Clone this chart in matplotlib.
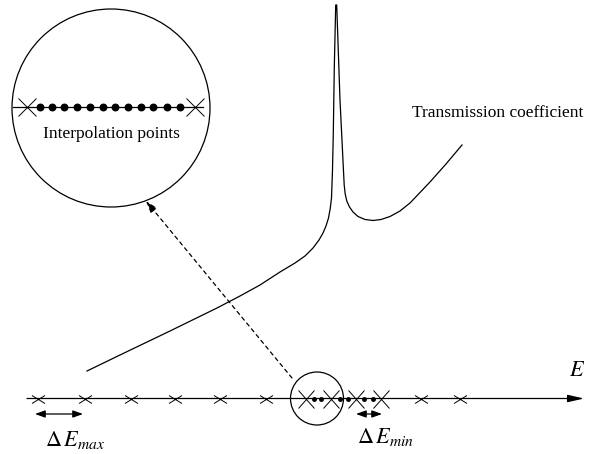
import matplotlib
matplotlib.use("Agg")
import matplotlib.pyplot as plt
from matplotlib.patches import Circle
from matplotlib.path import Path

plt.rcParams["font.family"] = ["Liberation Serif", "DejaVu Serif"]
plt.rcParams["mathtext.fontset"] = "stix"

# Transmission coefficient curve (energy axis -> transmission, drawing units)
curve_energy = [87, 120, 170, 217, 240, 260, 280, 295, 305, 313, 319, 323,
                326, 328.5, 330.3, 331.5, 332.5, 333.3, 334.3, 335.7, 336.7,
                340, 343.3, 344.2, 345.2, 346.8, 349.5, 353, 358, 365, 373,
                381, 390, 400, 410, 430, 446, 462]
curve_trans = [371, 355, 331, 308, 296, 285, 272, 263, 256, 248, 240, 233,
               226, 218, 208, 198, 170, 133, 67, 5, 5,
               100, 167, 185, 194, 201, 207, 212, 216.5, 219.5, 220.5,
               219.5, 216.5, 211, 203, 182, 164, 145]

# Energy grid on the E axis
coarse_grid = [38, 85, 131, 175, 220, 266, 421, 460]
fine_grid = [306, 331, 356, 381]
interp_points = [314, 321, 340, 348, 364, 373]

# Magnified view inside the large circle
zoom_grid = [27, 195]
zoom_interp = [40, 51.7, 64.3, 77.3, 90, 102.7, 115, 127.7, 140.7, 153.3,
               166.7, 180]

axis_y = 398.5
zoom_y = 107

fig = plt.figure(figsize=(5.93, 4.54), dpi=100)
ax = fig.add_axes([0, 0, 1, 1])
ax.set_xlim(0, 593)
ax.set_ylim(454, 0)
ax.axis("off")

lw = 0.9


def cross_marker(w, h):
    return Path([(-w, -h), (w, h), (-w, h), (w, -h)],
                [Path.MOVETO, Path.LINETO, Path.MOVETO, Path.LINETO])


px = 0.72  # points per pixel at 100 dpi

# Energy axis with arrow
ax.annotate("", xy=(584, axis_y), xytext=(27, axis_y),
            arrowprops=dict(arrowstyle="-|>,head_length=0.7,head_width=0.16",
                            lw=lw, color="black", shrinkA=0, shrinkB=0,
                            mutation_scale=14))
ax.text(577, 371, "$E$", fontsize=16, ha="center", va="center")

# Grid crosses
ax.plot(coarse_grid, [axis_y] * len(coarse_grid), linestyle="none",
        marker=cross_marker(13, 8), markersize=13 * px, mec="black",
        mew=0.7)
ax.plot(fine_grid, [axis_y] * len(fine_grid), linestyle="none",
        marker=cross_marker(16, 18), markersize=18 * px, mec="black",
        mew=0.7)
ax.plot(interp_points, [axis_y] * len(interp_points), linestyle="none",
        marker="o", markersize=3.5 * px, color="black")

# Small circle around the refined region
ax.add_patch(Circle((317, axis_y), 26.5, fill=False, lw=lw, color="black"))

# Large magnifying circle
ax.add_patch(Circle((111, 108), 99, fill=False, lw=lw, color="black"))
ax.plot([13, 203], [zoom_y, zoom_y], color="black", lw=lw)
ax.plot(zoom_grid, [zoom_y] * len(zoom_grid), linestyle="none",
        marker=cross_marker(18, 18), markersize=18 * px, mec="black",
        mew=0.7)
ax.plot(zoom_interp, [zoom_y] * len(zoom_interp), linestyle="none",
        marker="o", markersize=6.5 * px, color="black")
ax.text(43, 138, "Interpolation points", fontsize=12.5, ha="left",
        va="baseline")

# Dashed arrow linking small circle to magnified view
ax.annotate("", xy=(146, 201), xytext=(292, 378),
            arrowprops=dict(arrowstyle="-|>,head_length=0.6,head_width=0.2",
                            lw=lw, color="black", linestyle=(0, (3, 3)),
                            shrinkA=0, shrinkB=0, mutation_scale=12))

# Transmission curve
ax.plot(curve_energy, curve_trans, color="black", lw=lw,
        solid_joinstyle="round")
ax.text(412, 117, "Transmission coefficient", fontsize=12.5, ha="left",
        va="baseline")

# Step size markers
for x0, x1 in [(35, 83), (356, 382)]:
    ax.annotate("", xy=(x1, 414), xytext=(x0, 414),
                arrowprops=dict(arrowstyle="<|-|>,head_length=0.5,head_width=0.18",
                                lw=lw, color="black", shrinkA=0, shrinkB=0,
                                mutation_scale=12))
ax.text(45, 446, r"$\Delta\, E_{max}$", fontsize=16, ha="left",
        va="baseline")
ax.text(357, 443, r"$\Delta\, E_{min}$", fontsize=16, ha="left",
        va="baseline")

fig.savefig("out.png", dpi=100)
